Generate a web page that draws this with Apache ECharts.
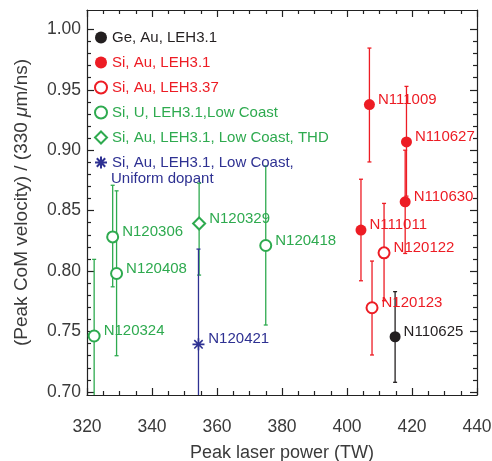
<!DOCTYPE html>
<html>
<head>
<meta charset="utf-8">
<script src="https://cdn.jsdelivr.net/npm/echarts@6/dist/echarts.min.js"></script>
<style>
  html, body { margin: 0; padding: 0; background: #fff; }
  #main { width: 492px; height: 461px; }
</style>
</head>
<body>
<div id="main"></div>
<script>
// rows: [power (TW), peak velocity, err low, err high, shot]
const geAuLeh31 = [[414.8, 0.7457, 0.708, 0.783, 'N110625']];
const siAuLeh31 = [
  [406.9, 0.9378, 0.8903, 0.9845, 'N111009'],
  [418.3, 0.9069, 0.862, 0.9528, 'N110627'],
  [417.9, 0.8573, 0.8146, 0.900, 'N110630'],
  [404.3, 0.8339, 0.792, 0.876, 'N111011']
];
const siAuLeh337 = [
  [411.4, 0.8151, 0.7755, 0.856, 'N120122'],
  [407.7, 0.7697, 0.7306, 0.8083, 'N120123']
];
const siULowCoast = [
  [322.2, 0.7463, 0.66, 0.8097, 'N120324'],
  [327.9, 0.8283, 0.787, 0.871, 'N120306'],
  [329.1, 0.798, 0.730, 0.8664, 'N120408'],
  [375.0, 0.8212, 0.7554, 0.887, 'N120418']
];
const siAuThd = [[354.5, 0.8394, 0.7967, 0.8727, 'N120329']];
const siAuUniform = [[354.3, 0.7394, 0.66, 0.8182, 'N120421']];

const yTicks = [0.70, 0.75, 0.80, 0.85, 0.90, 0.95, 1.00];
const yMinor = [];
for (let v = 71; v < 100; v++) if (v % 5) yMinor.push(v / 100);

const RED = '#ed1c24', BLACK = '#231f20', GREEN = '#2eaa4f', BLUE = '#2e3192';
const AXC = '#222';
const FONT = '"Liberation Sans", Arial, Helvetica, sans-serif';
const YMIN = 0.6975, YMAX = 1.016;
const ASTER = 'path://M0,6L12,6M6,0L6,12M1.8,1.8L10.2,10.2M10.2,1.8L1.8,10.2';

function errBars(rows, color) {
  return {
    type: 'custom',
    silent: true,
    data: rows.map(r => [r[0], r[2], r[3]]),
    renderItem: (params, api) => {
      const cs = params.coordSys;
      const x = api.value(0);
      const top = api.coord([x, api.value(2)]);
      const bot = api.coord([x, api.value(1)]);
      const y1 = Math.max(top[1], cs.y), y2 = Math.min(bot[1], cs.y + cs.height);
      const px = top[0], w = 2;
      const st = { stroke: color, lineWidth: 1.3 };
      const kids = [{ type: 'line', shape: { x1: px, y1: y1, x2: px, y2: y2 }, style: st }];
      if (y1 === top[1]) kids.push({ type: 'line', shape: { x1: px - w, y1: y1, x2: px + w, y2: y1 }, style: st });
      if (y2 === bot[1]) kids.push({ type: 'line', shape: { x1: px - w, y1: y2, x2: px + w, y2: y2 }, style: st });
      return { type: 'group', children: kids };
    }
  };
}

function points(name, rows, color, symbol, size, extra) {
  return {
    name: name,
    type: 'scatter',
    symbol: symbol,
    symbolSize: size,
    itemStyle: Object.assign({ color: color, opacity: 1 }, extra || {}),
    data: rows.map(r => [r[0], r[1], r[4]]),
    label: {
      show: true, position: 'right', distance: 3, offset: [0, -5],
      formatter: p => p.value[2], color: color, fontSize: 15, fontFamily: FONT
    },
    z: 5
  };
}

const names = [
  'Ge, Au, LEH3.1',
  'Si, Au, LEH3.1',
  'Si, Au, LEH3.37',
  'Si, U, LEH3.1,Low Coast',
  'Si, Au, LEH3.1, Low Coast, THD',
  'Si, Au, LEH3.1, Low Coast,'
];
const nameColors = [BLACK, RED, RED, GREEN, GREEN, BLUE];

function yAx(pos, values, len, line) {
  return {
    type: 'value', position: pos, min: YMIN, max: YMAX,
    axisLine: { show: line, onZero: false, lineStyle: { color: AXC, width: 1.2 } },
    axisTick: { show: true, inside: true, length: len, customValues: values, lineStyle: { color: AXC, width: 1.2 } },
    axisLabel: {
      show: false, customValues: values, margin: 6,
      formatter: v => v.toFixed(2), fontSize: 17.5, color: '#3a3a3a', fontFamily: FONT
    },
    minorTick: { show: false },
    splitLine: { show: false }
  };
}

function xAx(pos) {
  return {
    type: 'value', position: pos, min: 320, max: 440, interval: 20,
    axisLine: { show: true, onZero: false, lineStyle: { color: AXC, width: 1.2 } },
    axisTick: { show: true, inside: true, length: 7, lineStyle: { color: AXC, width: 1.2 } },
    minorTick: { show: true, splitNumber: 4, length: 4, lineStyle: { color: AXC, width: 1.2 } },
    axisLabel: { show: false },
    splitLine: { show: false }
  };
}

const xBottom = xAx('bottom');
xBottom.axisLabel = { show: true, margin: 23, fontSize: 17.5, color: '#3a3a3a', fontFamily: FONT };
xBottom.name = 'Peak laser power (TW)';
xBottom.nameLocation = 'middle';
xBottom.nameGap = 49;
xBottom.nameTextStyle = { fontSize: 18, color: '#3a3a3a', fontFamily: FONT };

const yLeft = yAx('left', yTicks, 7, true);
yLeft.axisLabel.show = true;
yLeft.name = '(Peak CoM velocity) / (330 {i|\u03bc}m/ns)';
yLeft.nameLocation = 'middle';
yLeft.nameGap = 56;
yLeft.nameTextStyle = {
  fontSize: 19, color: '#3a3a3a', fontFamily: FONT,
  rich: { i: { fontStyle: 'italic', fontSize: 19, color: '#3a3a3a', fontFamily: FONT } }
};

const option = {
  animation: false,
  backgroundColor: '#fff',
  grid: { left: 87, right: 15, top: 10, bottom: 66, outerBoundsMode: 'none' },
  xAxis: [xBottom, xAx('top')],
  yAxis: [
    yLeft,
    yAx('left', yMinor, 4, false),
    yAx('right', yTicks, 7, true),
    yAx('right', yMinor, 4, false)
  ],
  legend: {
    orient: 'vertical', left: 89, top: 24,
    itemWidth: 12, itemHeight: 12, itemGap: 8,
    selectedMode: false,
    textStyle: { fontSize: 15, lineHeight: 17, fontFamily: FONT },
    data: names.map((n, i) => ({ name: n, textStyle: { color: nameColors[i] } }))
  },
  graphic: [{
    type: 'text', left: 111, top: 171,
    style: { text: 'Uniform dopant', fill: BLUE, fontSize: 15, fontFamily: FONT }
  }],
  series: [
    errBars(siULowCoast, GREEN),
    errBars(siAuThd, GREEN),
    errBars(siAuLeh31, RED),
    errBars(siAuLeh337, RED),
    errBars(geAuLeh31, BLACK),
    errBars(siAuUniform, BLUE),
    points(names[0], geAuLeh31, BLACK, 'circle', 11),
    points(names[1], siAuLeh31, RED, 'circle', 11),
    points(names[2], siAuLeh337, RED, 'emptyCircle', 11, { borderColor: RED, borderWidth: 1.3 }),
    points(names[3], siULowCoast, GREEN, 'emptyCircle', 11, { borderColor: GREEN, borderWidth: 1.3 }),
    points(names[4], siAuThd, GREEN, 'emptyDiamond', 12, { borderColor: GREEN, borderWidth: 1.3 }),
    points(names[5], siAuUniform, BLUE, ASTER, 12, { borderColor: BLUE, borderWidth: 1.6 })
  ]
};

const chart = echarts.init(document.getElementById('main'));
chart.setOption(option);
</script>
</body>
</html>
